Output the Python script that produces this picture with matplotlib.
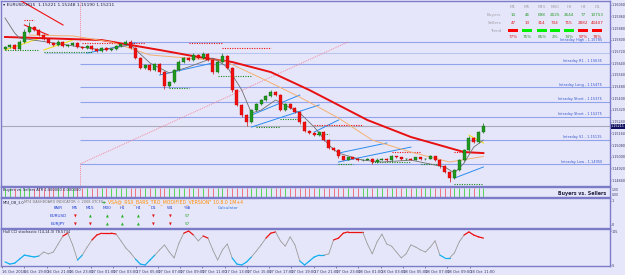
import matplotlib

matplotlib.use("Agg")

import matplotlib.pyplot as plt
from matplotlib.patches import Rectangle
import numpy as np

plt.rcParams["font.family"] = ["DejaVu Sans"]

BG = "#e6e6fa"
FRAME = "#7b7bc8"
W_PX, H_PX = 625, 275

# ---- price data (EURUSD M15) ----
first_open = 1.15740
closes = [
    1.15750, 1.15764, 1.15737, 1.15785, 1.15853, 1.15887, 1.15867, 1.15832, 1.15805, 1.15778,
    1.15764, 1.15785, 1.15757, 1.15764, 1.15778, 1.15750, 1.15744, 1.15757, 1.15737, 1.15723,
    1.15744, 1.15730, 1.15737, 1.15757, 1.15771, 1.15785, 1.15744, 1.15675, 1.15607, 1.15627,
    1.15593, 1.15634, 1.15579, 1.15484, 1.15511, 1.15593, 1.15648, 1.15675, 1.15661, 1.15696,
    1.15675, 1.15702, 1.15661, 1.15579, 1.15648, 1.15689, 1.15607, 1.15456, 1.15354, 1.15285,
    1.15237, 1.15319, 1.15360, 1.15388, 1.15415, 1.15443, 1.15422, 1.15319, 1.15360, 1.15333,
    1.15306, 1.15237, 1.15176, 1.15162, 1.15148, 1.15169, 1.15114, 1.15060, 1.15046, 1.15002,
    1.14981, 1.14995, 1.14988, 1.14977, 1.14981, 1.14984, 1.14964, 1.14981, 1.14988, 1.14977,
    1.15002, 1.14995, 1.14984, 1.14988, 1.14981, 1.14995, 1.14984, 1.14988, 1.15002, 1.14977,
    1.14936, 1.14895, 1.14854, 1.14909, 1.14977, 1.15046, 1.15128, 1.15101, 1.15169, 1.15211,
]
# wick lengths in points (0.00001)
upper_wick = [
    6, 5, 8, 10, 20, 34, 6, 5, 6, 5,
    6, 12, 5, 6, 8, 5, 6, 5, 6, 5,
    6, 8, 5, 6, 8, 15, 10, 6, 5, 8,
    6, 8, 5, 5, 6, 8, 12, 6, 8, 15,
    6, 12, 6, 5, 12, 20, 6, 5, 6, 5,
    6, 8, 6, 8, 10, 13, 6, 5, 8, 6,
    5, 6, 5, 6, 8, 6, 10, 5, 6, 5,
    6, 5, 6, 5, 6, 5, 6, 8, 6, 5,
    8, 6, 5, 6, 5, 6, 5, 6, 8, 5,
    6, 5, 6, 8, 10, 8, 15, 6, 10, 18,
]
lower_wick = [
    8, 6, 10, 6, 5, 6, 6, 5, 6, 6,
    5, 6, 8, 5, 6, 8, 6, 5, 6, 8,
    5, 6, 5, 6, 5, 6, 8, 6, 10, 6,
    8, 6, 10, 20, 6, 5, 6, 5, 6, 5,
    8, 6, 8, 12, 6, 5, 6, 10, 8, 10,
    25, 6, 5, 6, 5, 6, 5, 8, 6, 6,
    8, 12, 6, 8, 6, 5, 8, 10, 6, 8,
    6, 5, 6, 8, 6, 5, 12, 6, 5, 8,
    6, 5, 8, 6, 5, 6, 8, 6, 5, 8,
    10, 8, 27, 6, 6, 5, 6, 8, 6, 5,
]

# moving averages sampled at bar indices
ma_slow_bars = [0, 20, 32, 40, 47, 55, 63, 75, 84, 95, 99]
ma_slow = [1.15819, 1.15798, 1.15730, 1.15682, 1.15648, 1.15579, 1.15456, 1.15251, 1.15135, 1.15032, 1.15025]
ma_mid_bars = [5, 14, 22, 30, 43, 45, 53, 61, 69, 76, 84, 92, 99]
ma_mid = [1.15832, 1.15826, 1.15785, 1.15696, 1.15661, 1.15661, 1.15538, 1.15408, 1.15265, 1.15114, 1.15032, 1.14964, 1.15002]
ma_fast_bars = [0, 2, 3, 10, 20, 26, 30, 34, 38, 43, 46, 49, 51, 53, 56, 61, 64, 67, 69, 74, 78, 84, 91, 93, 95, 97, 99]
ma_fast = [1.15949, 1.15846, 1.15812, 1.15778, 1.15730, 1.15764, 1.15641, 1.15573, 1.15614, 1.15675,
           1.15614, 1.15456, 1.15299, 1.15319, 1.15388, 1.15299, 1.15203, 1.15080, 1.15025, 1.14977,
           1.14964, 1.14977, 1.14930, 1.14889, 1.14957, 1.15066, 1.15114]

# dotted resistance / support levels: (first bar, last bar, price)
resistance = [(4, 6, 1.15935), (16, 29, 1.15778), (38, 45, 1.15778), (45, 55, 1.15744),
              (64, 74, 1.15217), (80, 86, 1.15032), (93, 99, 1.15032)]
support = [(0, 7, 1.15730), (8, 18, 1.15716), (34, 38, 1.15470), (44, 51, 1.15552),
           (52, 57, 1.15203), (57, 61, 1.15258), (64, 67, 1.15155), (69, 72, 1.14950),
           (76, 84, 1.14964), (86, 90, 1.14950), (93, 99, 1.14813)]

# channel / trend segments: (bar0, price0, bar1, price1)
blue_segments = [(17, 1.15709, 27, 1.15778), (32, 1.15559, 43, 1.15641), (51, 1.15285, 61, 1.15422),
                 (51, 1.15203, 65, 1.15354), (64, 1.15169, 69, 1.15251), (69, 1.15025, 79, 1.15094),
                 (69, 1.14964, 84, 1.15066), (93, 1.14854, 99, 1.14930)]
red_segments = [(3, 1.16072, 12, 1.15901), (4, 1.15901, 9, 1.15832)]
yellow_segments = [(0, 1.15730, 8, 1.15819), (8, 1.15730, 14, 1.15798), (96, 1.15148, 99, 1.15094)]
pink_segment = (15.5, 1.14950, 71, 1.15785)

# intraday levels: (label, price, first bar)
levels = [("Intraday High", 1.15785, 26), ("Intraday R1", 1.15635, 15.5),
          ("Intraday Long", 1.15475, 15.5), ("Intraday Short", 1.15375, 15.5),
          ("Intraday Short", 1.15275, 15.5), ("Intraday S1", 1.15115, 15.5),
          ("Intraday Low", 1.14950, 15.5)]
light_level = 1.15709
current_price = 1.15211
price_ticks = [1.16040, 1.15960, 1.15880, 1.15800, 1.15720, 1.15640, 1.15560, 1.15480,
               1.15400, 1.15320, 1.15240, 1.15160, 1.15080, 1.15000, 1.14920, 1.14840]

# strength table
tf_names = ["M1", "M5", "M15", "M30", "H1", "H4", "D1"]
buyers = ["14", "46", "698", "2025", "2644", "77", "10753"]
sellers = ["47", "13", "314", "734", "715", "2882", "40407"]
trend_up = [False, True, True, True, True, False, False]
trend_pct = ["77%", "75%", "85%", "2%", "74%", "97%", "78%"]

# dashboard
dash_cols = ["M5", "M15", "M30", "H1", "H4", "D1", "W1"]
dash_pairs = ["EURUSD", "EURJPY"]
dash_signals = [[False, True, True, True, True, False, False],
                [False, False, True, True, True, False, False]]
dash_pct = ["57", "57"]

# Hull CCI stochastic
cci = [
    5, -2, 1, 14, 27, 24, 21, 24, 37, 31,
    37, 63, 89, 98, 60, 11, 27, 53, 76, 92,
    98, 98, 98, 95, 73, 50, 34, 14, -2, -5,
    11, 27, 44, 60, 37, 18, 66, 98, 105, 92,
    73, 89, 82, 44, 11, 44, 63, 18, -2, -5,
    5, 21, 40, 60, 82, 98, 102, 73, 56, 86,
    60, 8, -5, 8, 21, 27, 27, 31, 76, 82,
    98, 102, 102, 102, 102, 63, 31, 70, 95, 63,
    56, 37, 18, 31, 60, 53, 44, 37, 53, 73,
    27, 18, 18, 34, 70, 92, 102, 92, 86, 82,
]

time_labels = ["16 Oct 2018", "16 Oct 19:00", "16 Oct 21:00", "16 Oct 23:00", "17 Oct 01:00",
               "17 Oct 03:00", "17 Oct 05:00", "17 Oct 07:00", "17 Oct 09:00", "17 Oct 11:00",
               "17 Oct 13:00", "17 Oct 15:00", "17 Oct 17:00", "17 Oct 19:00", "17 Oct 21:00",
               "17 Oct 23:00", "18 Oct 01:00", "18 Oct 03:00", "18 Oct 05:00", "18 Oct 07:00",
               "18 Oct 09:00", "18 Oct 11:00"]


def fpos(x, y):
    return x / W_PX, 1 - y / H_PX


def panel(fig, top, bottom, left=1, right=610):
    x0, y0 = fpos(left, bottom)
    ax = fig.add_axes([x0, y0, (right - left) / W_PX, (bottom - top) / H_PX])
    ax.set_facecolor(BG)
    for side in ax.spines.values():
        side.set_color(FRAME)
        side.set_linewidth(1.0)
    ax.yaxis.tick_right()
    ax.tick_params(axis="both", labelsize=2.4, colors="#333366", length=1.0, width=0.4, pad=0.4)
    ax.set_xticks([])
    return ax


n = len(closes)
bars = np.arange(n)
opens = np.array([first_open] + closes[:-1])
closes_a = np.array(closes)
highs = np.maximum(opens, closes_a) + np.array(upper_wick) * 1e-5
lows = np.minimum(opens, closes_a) - np.array(lower_wick) * 1e-5
up = closes_a >= opens
XLIM = (-0.83, 125.2)

fig = plt.figure(figsize=(W_PX / 100, H_PX / 100), dpi=100, facecolor=BG)

# ---- main price panel ----
ax = panel(fig, 1, 186)
ax.set_xlim(*XLIM)
ax.set_ylim(1.14800, 1.16065)
ax.set_yticks(price_ticks, [f"{p:.5f}" for p in price_ticks])

for label, price, start in levels:
    ax.hlines(price, start, XLIM[1], color="#8fa4ea", lw=0.8, zorder=1)
    ax.text(123.5, price + 0.00003, f"{label} - {price:.5f}", fontsize=2.5,
            color="#3355cc", ha="right", va="bottom")
ax.hlines(light_level, 8, XLIM[1], color="#b8c6f0", lw=0.8, zorder=1)
ax.axhline(current_price, color="#a8a8b8", lw=0.8, zorder=1)

ax.plot([pink_segment[0], pink_segment[0]], [1.16065, 1.15785], color="#f08aa0", lw=0.7, ls=(0, (1, 1)))
ax.plot([pink_segment[0], pink_segment[0]], [1.14800, pink_segment[1]], color="#f08aa0", lw=0.7, ls=(0, (1, 1)))
ax.plot([pink_segment[0], pink_segment[2]], [pink_segment[1], pink_segment[3]],
        color="#f08aa0", lw=0.7, ls=(0, (1, 1)))

ax.plot(ma_slow_bars, ma_slow, color="#e81010", lw=1.4, zorder=4)
ax.plot(ma_mid_bars, ma_mid, color="#f4b070", lw=0.7, zorder=4)
ax.plot(ma_fast_bars, ma_fast, color="#707070", lw=0.6, zorder=4)

for b0, p0, b1, p1 in blue_segments:
    ax.plot([b0, b1], [p0, p1], color="#2a8cf0", lw=0.7, zorder=3)
for b0, p0, b1, p1 in red_segments:
    ax.plot([b0, b1], [p0, p1], color="#ee1010", lw=0.8, zorder=3)
for b0, p0, b1, p1 in yellow_segments:
    ax.plot([b0, b1], [p0, p1], color="#f0e020", lw=0.8, zorder=3)

for b0, b1, price in resistance:
    ax.hlines(price, b0, b1, color="#ee1010", lw=0.8, ls=(0, (1, 1.2)), zorder=3)
for b0, b1, price in support:
    ax.hlines(price, b0, b1, color="#1a8a1a", lw=0.8, ls=(0, (1, 1.2)), zorder=3)

body_col = np.where(up, "#1f9a1f", "#f01010")
ax.vlines(bars, lows, highs, color=np.where(up, "#207020", "#c01010"), lw=0.5, zorder=5)
ax.bar(bars, np.maximum(np.abs(closes_a - opens), 2e-5), bottom=np.minimum(opens, closes_a),
       width=0.62, color=body_col, edgecolor=np.where(up, "#0d5a0d", "#c00000"), lw=0.25, zorder=6)

fig.text(*fpos(3, 5), "\u25be EURUSD,M15  1.15221 1.15248 1.15190 1.15211",
         fontsize=3.2, color="#202040", va="center")
fig.text(*fpos(611, 126), f"{current_price:.5f}", fontsize=2.4, color="white", va="center",
         bbox=dict(boxstyle="square,pad=0.15", fc="#101060", ec="none"))

col_x = [513, 527, 542, 555, 569, 583, 597]
for cx, name, b, s, t_up, pct in zip(col_x, tf_names, buyers, sellers, trend_up, trend_pct):
    fig.text(*fpos(cx, 7), name, fontsize=3.0, color="#a0a0a8", ha="center", va="center")
    fig.text(*fpos(cx, 15), b, fontsize=3.0, color="#2a9a2a", ha="center", va="center")
    fig.text(*fpos(cx, 23), s, fontsize=3.0, color="#e01818", ha="center", va="center")
    rx, ry = fpos(cx - 5, 32)
    fig.patches.append(Rectangle((rx, ry), 10 / W_PX, 3 / H_PX, transform=fig.transFigure,
                                 fc="#00ee00" if t_up else "#ff0000", ec="none"))
    fig.text(*fpos(cx, 36.5), pct, fontsize=3.0, color="#2a9a2a" if t_up else "#e01818",
             ha="center", va="center")
for y, name in [(15, "Buyers"), (23, "Sellers"), (30.5, "Trend")]:
    fig.text(*fpos(501, y), name, fontsize=3.0, color="#a0a0a8", ha="right", va="center")

# ---- buyers vs sellers strip ----
ax2 = panel(fig, 187, 197)
ax2.set_xlim(*XLIM)
ax2.set_ylim(0, 1)
ax2.set_yticks([])
ax2.vlines(bars, 0.05, 0.95, color=np.where(up, "#40d040", "#f06070"), lw=0.6)
fig.text(*fpos(3, 189.5), "Buyers vs. Sellers ATR 1.000000 0.000000", fontsize=2.6,
         color="#202040", va="center")
fig.text(*fpos(606, 193), "Buyers vs. Sellers", fontsize=3.4, color="#202040",
         ha="right", va="center", fontweight="bold")
fig.text(*fpos(611.5, 190), "1.00", fontsize=2.2, color="#333366", va="center")
fig.text(*fpos(611.5, 195), "0.00", fontsize=2.2, color="#333366", va="center")

# ---- dashboard panel ----
ax3 = panel(fig, 198, 228)
ax3.set_xlim(*XLIM)
ax3.set_ylim(0, 1)
ax3.set_yticks([0.9, 0.1], ["1", "0"])
fig.text(*fpos(3, 202), "MT4_DB_3.0", fontsize=2.5, color="#202040", va="center")
fig.text(*fpos(24, 202), "MT4 DASHBOARD INDICATOR \u00a9 2008 GTCFX", fontsize=2.5,
         color="#707070", va="center")
fig.text(*fpos(102, 202), "+", fontsize=3.6, color="#20a020", va="center", fontweight="bold")
fig.text(*fpos(108, 202), "VSA@_RSX_BARS_TRO_MODIFIED_VERSION\" 10.8.0 1M+4", fontsize=3.3,
         color="#ff8c00", va="center")
fig.text(*fpos(218, 208), "Calculator", fontsize=3.0, color="#2a7ae0", va="center")
dash_x = [75, 90, 107, 122, 138, 153, 170]
fig.text(*fpos(58, 208), "PAIR", fontsize=3.0, color="#2040d0", ha="center", va="center")
fig.text(*fpos(187, 208), "%\u2295", fontsize=3.0, color="#2040d0", ha="center", va="center")
for cx, name in zip(dash_x, dash_cols):
    fig.text(*fpos(cx, 208), name, fontsize=3.0, color="#2040d0", ha="center", va="center")
for row_y, pair, sig, pct in zip([216, 224], dash_pairs, dash_signals, dash_pct):
    fig.text(*fpos(58, row_y), pair, fontsize=3.0, color="#2040d0", ha="center", va="center")
    for cx, s in zip(dash_x, sig):
        fig.text(*fpos(cx, row_y), "\u25b2" if s else "\u25bc", fontsize=2.6,
                 color="#20b020" if s else "#e01818", ha="center", va="center")
    fig.text(*fpos(187, row_y), pct, fontsize=3.0, color="#20a020", ha="center", va="center")

# ---- Hull CCI panel ----
ax4 = panel(fig, 229, 266)
ax4.set_xlim(*XLIM)
ax4.set_ylim(-8.2, 111.5)
ax4.set_yticks([105, -5], ["105", "-5"])
cci_a = np.array(cci, dtype=float)
for i in range(n - 1):
    a, b = cci_a[i], cci_a[i + 1]
    if a >= 75 and b >= 75:
        col = "#ee1010"
    elif a <= 30 and b <= 30:
        col = "#10b0f0"
    else:
        col = "#9a9a9a"
    ax4.plot([i, i + 1], [a, b], color=col, lw=0.9 if col != "#9a9a9a" else 0.6,
             solid_capstyle="round")
fig.text(*fpos(3, 232), "Hull CCI stochastic (14,14,3) 78.5734", fontsize=2.6,
         color="#202040", va="center")

tick_pos = [(1 + 22.3 * k - 4) / 4.84 for k in range(len(time_labels))]
ax4.set_xticks(tick_pos, time_labels)
ax4.tick_params(axis="x", labelsize=2.7, length=1.5, pad=1.2)
for lbl in ax4.get_xticklabels():
    lbl.set_horizontalalignment("left")

fig.savefig("out.png", dpi=100, facecolor=BG)
